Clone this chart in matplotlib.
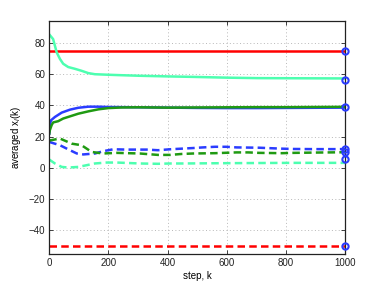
import matplotlib
matplotlib.use("Agg")
import matplotlib.pyplot as plt
import numpy as np

plt.rcParams['font.family'] = ['Liberation Sans', 'DejaVu Sans']

# ---- data ----
red_solid_k = [0, 1000]
red_solid_v = [75, 75]
red_dash_k = [0, 1000]
red_dash_v = [-50, -50]

aqua_solid_k = [0, 13, 19, 25, 36, 47, 64, 86, 109, 132, 154, 194, 239, 306, 400, 484, 600, 704, 850, 1000]
aqua_solid_v = [85.5, 82.5, 78.3, 74, 69.8, 66.7, 64.6, 63.5, 62.2, 60.7, 60.0, 59.7, 59.4, 59.0, 58.6, 58.3, 57.8, 57.5, 57.4, 57.3]

blue_solid_k = [0, 2, 6, 19, 42, 70, 98, 132, 166, 200, 300, 400, 500, 600, 700, 800, 900, 1000]
blue_solid_v = [22, 28, 30.5, 32.6, 35.4, 37.3, 38.5, 39.2, 39.2, 39.0, 38.8, 38.6, 38.4, 38.3, 38.3, 38.4, 38.5, 38.6]

green_solid_k = [0, 2, 8, 13, 30, 47, 70, 98, 132, 166, 200, 245, 300, 400, 500, 600, 700, 800, 900, 1000]
green_solid_v = [22, 24.2, 27.4, 29.1, 29.9, 31.6, 33.0, 34.7, 36.2, 37.5, 38.3, 38.7, 38.8, 38.6, 38.7, 38.8, 38.9, 38.9, 39.0, 39.1]

green_dash_k = [0, 36, 76, 109, 143, 181, 228, 306, 367, 408, 447, 486, 560, 633, 672, 709, 785, 824, 900, 1000]
green_dash_v = [17.5, 18.8, 15.5, 14.5, 10.2, 9.2, 9.6, 9.2, 8.3, 8.3, 8.9, 9.2, 9.4, 9.9, 9.9, 9.6, 9.4, 9.6, 9.8, 10.0]

blue_dash_k = [0, 36, 70, 93, 115, 154, 183, 216, 262, 329, 367, 408, 447, 486, 519, 560, 597, 633, 709, 785, 824, 900, 1000]
blue_dash_v = [16.6, 14.5, 11.3, 9.2, 8.6, 9.2, 10.7, 11.9, 11.7, 11.7, 11.3, 11.9, 12.3, 12.7, 13.1, 13.5, 13.5, 13.1, 12.9, 12.3, 12.1, 12.0, 12.0]

aqua_dash_k = [0, 19, 42, 64, 98, 121, 154, 194, 228, 306, 367, 408, 447, 600, 824, 1000]
aqua_dash_v = [5.3, 2.8, 0.6, 0.2, 0.6, 1.5, 2.8, 3.4, 3.4, 2.8, 2.6, 2.8, 2.8, 3.0, 3.2, 3.2]

marker_k = [1000, 1000, 1000, 1000, 1000, 1000, 1000]
marker_v = [75, 56.1, 39.05, 12.4, 10.2, 5.5, -50]

xticks = [0, 200, 400, 600, 800, 1000]
yticks = [-40, -20, 0, 20, 40, 60, 80]

RED = '#ff0000'
AQUA = '#4dffb0'
BLUE = '#2a3cff'
GREEN = '#1f9a12'

fig = plt.figure(figsize=(3.82, 2.86), dpi=100)
ax = fig.add_axes([0.129, 0.113, 0.775, 0.813])

lw = 1.8
dash = (0, (3.0, 1.7))
ax.plot(red_solid_k, red_solid_v, color=RED, lw=lw)
ax.plot(aqua_solid_k, aqua_solid_v, color=AQUA, lw=lw)
ax.plot(blue_solid_k, blue_solid_v, color=BLUE, lw=lw)
ax.plot(green_solid_k, green_solid_v, color=GREEN, lw=lw)
ax.plot(red_dash_k, red_dash_v, color=RED, lw=lw, linestyle=dash)
ax.plot(aqua_dash_k, aqua_dash_v, color=AQUA, lw=lw, linestyle=dash)
ax.plot(blue_dash_k, blue_dash_v, color=BLUE, lw=lw, linestyle=dash)
ax.plot(green_dash_k, green_dash_v, color=GREEN, lw=lw, linestyle=dash)
ax.plot(marker_k, marker_v, linestyle='none', marker='o', ms=4.5,
        mfc='none', mec=BLUE, mew=1.5, clip_on=False, zorder=5)

ax.set_xlim(0, 1000)
ax.set_ylim(-55, 94)
ax.set_xticks(xticks)
ax.set_yticks(yticks)
ax.grid(True, color='#b8b8b8', linestyle=(0, (1, 2.5)), lw=0.7)
ax.tick_params(direction='in', length=3, width=0.6, top=True, right=True,
               labelsize=7, pad=3, colors='#222222')
for s in ax.spines.values():
    s.set_linewidth(0.9)
    s.set_color('#222222')
ax.set_xlabel('step, k', fontsize=7, labelpad=2)
ax.set_ylabel('averaged x$_i$(k)', fontsize=7, labelpad=4)

fig.savefig('out.png', dpi=100)
